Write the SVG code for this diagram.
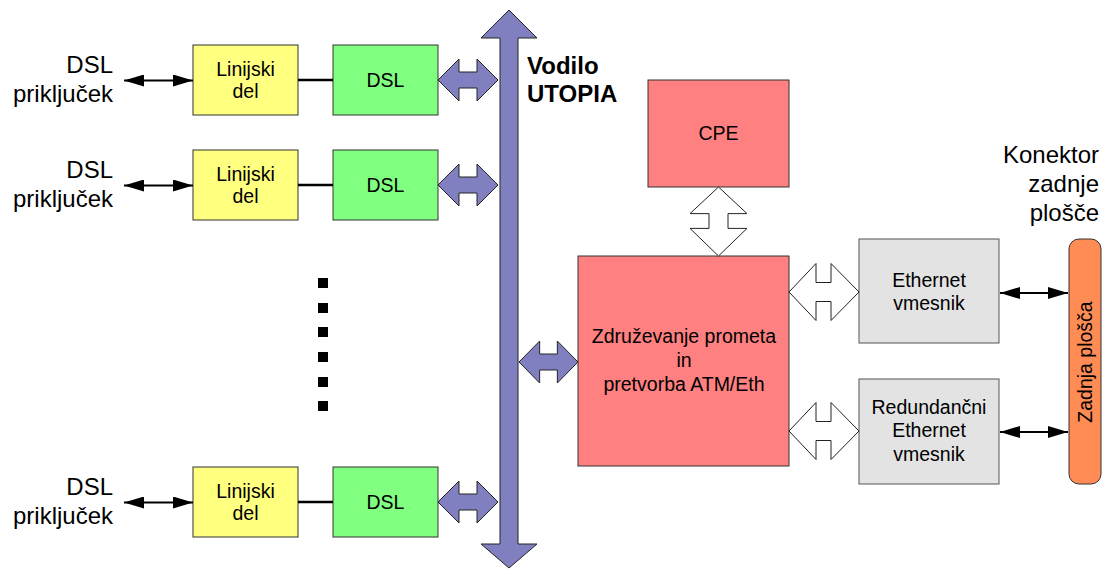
<svg xmlns="http://www.w3.org/2000/svg" width="1103" height="569" viewBox="0 0 1103 569">
  <style>
    .t { font-family: "Liberation Sans", Arial, sans-serif; fill: #000; }
    .lbl { font-size: 24px; }
    .box { font-size: 19.5px; text-anchor: middle; }
    .bold { font-size: 24px; font-weight: bold; }
    .yel { fill: #FFFF80; stroke: #333; stroke-width: 1; }
    .grn { fill: #80FF80; stroke: #333; stroke-width: 1; }
    .red { fill: #FF8080; stroke: #333; stroke-width: 1; }
    .gry { fill: #E3E3E3; stroke: #555; stroke-width: 1; }
    .bus { fill: #8080C0; stroke: #222; stroke-width: 1; stroke-linejoin: miter; }
    .wht { fill: #FFFFFF; stroke: #222; stroke-width: 1; }
    .link { stroke: #000; stroke-width: 2.5; fill: none; }
    .dbl { stroke: #000; stroke-width: 2; fill: none; marker-start: url(#head); marker-end: url(#head); }
  </style>
  <defs>
    <marker id="head" viewBox="0 0 20 12" refX="20" refY="6" markerWidth="20" markerHeight="12" markerUnits="userSpaceOnUse" orient="auto-start-reverse">
      <path d="M0,0 L20,6 L0,12 Z" fill="#000"/>
    </marker>
    <!-- block double arrow, horizontal, centred on 0,0 with 60px span -->
    <path id="busLink" d="M-30,0 L-9,-21 L-9,-8 L9,-8 L9,-21 L30,0 L9,21 L9,8 L-9,8 L-9,21 Z"/>
    <path id="wideLink" d="M-35,0 L-8,-28.5 L-8,-9.5 L7,-9.5 L7,-28.5 L35,0 L7,28.5 L7,9.5 L-8,9.5 L-8,28.5 Z"/>
  </defs>

  <!-- UTOPIA bus -->
  <g id="bus">
    <path class="bus" d="M509,10 L537,38 L518,38 L518,544 L537,544 L509,568 L481,544 L500,544 L500,38 L481,38 Z"/>
    <text class="t bold" x="527" y="74">Vodilo</text>
    <text class="t bold" x="527" y="102">UTOPIA</text>
  </g>

  <!-- line ports -->
  <g id="port1">
    <text class="t lbl" x="113" y="73" text-anchor="end">DSL</text>
    <text class="t lbl" x="113" y="102" text-anchor="end">priključek</text>
  </g>
  <g id="port2">
    <text class="t lbl" x="113" y="178" text-anchor="end">DSL</text>
    <text class="t lbl" x="113" y="207" text-anchor="end">priključek</text>
  </g>
  <g id="port3">
    <text class="t lbl" x="113" y="495" text-anchor="end">DSL</text>
    <text class="t lbl" x="113" y="524" text-anchor="end">priključek</text>
  </g>

  <!-- line parts -->
  <g id="line1">
    <rect class="yel" x="193" y="45" width="105" height="70"/>
    <text class="t box" x="245.5" y="76">Linijski</text>
    <text class="t box" x="245.5" y="98">del</text>
  </g>
  <g id="line2">
    <rect class="yel" x="193" y="150" width="105" height="70"/>
    <text class="t box" x="245.5" y="181">Linijski</text>
    <text class="t box" x="245.5" y="203">del</text>
  </g>
  <g id="line3">
    <rect class="yel" x="193" y="467" width="105" height="70"/>
    <text class="t box" x="245.5" y="498">Linijski</text>
    <text class="t box" x="245.5" y="520">del</text>
  </g>

  <!-- DSL blocks -->
  <g id="dsl1">
    <rect class="grn" x="333" y="45" width="105" height="70"/>
    <text class="t box" x="385.5" y="87">DSL</text>
  </g>
  <g id="dsl2">
    <rect class="grn" x="333" y="150" width="105" height="70"/>
    <text class="t box" x="385.5" y="192">DSL</text>
  </g>
  <g id="dsl3">
    <rect class="grn" x="333" y="467" width="105" height="70"/>
    <text class="t box" x="385.5" y="509">DSL</text>
  </g>

  <!-- continuation dots -->
  <g id="ellipsis" fill="#000">
    <rect x="318" y="278" width="10" height="10"/>
    <rect x="318" y="303" width="10" height="10"/>
    <rect x="318" y="327" width="10" height="10"/>
    <rect x="318" y="352" width="10" height="10"/>
    <rect x="318" y="377" width="10" height="10"/>
    <rect x="318" y="401" width="10" height="10"/>
  </g>

  <!-- CPE -->
  <g id="cpe">
    <rect class="red" x="648" y="80" width="141" height="107"/>
    <text class="t box" x="718.5" y="140">CPE</text>
  </g>

  <!-- aggregation / conversion -->
  <g id="aggregation">
    <rect class="red" x="578" y="256" width="211" height="210"/>
    <text class="t box" x="684" y="343">Združevanje prometa</text>
    <text class="t box" x="684" y="367">in</text>
    <text class="t box" x="684" y="391">pretvorba ATM/Eth</text>
  </g>

  <!-- Ethernet interfaces -->
  <g id="eth">
    <rect class="gry" x="859" y="239" width="140" height="104"/>
    <text class="t box" x="929" y="287">Ethernet</text>
    <text class="t box" x="929" y="310">vmesnik</text>
  </g>
  <g id="eth-red">
    <rect class="gry" x="859" y="379" width="140" height="105"/>
    <text class="t box" x="929" y="414">Redundančni</text>
    <text class="t box" x="929" y="437">Ethernet</text>
    <text class="t box" x="929" y="461">vmesnik</text>
  </g>

  <!-- backplane -->
  <g id="backplane">
    <text class="t lbl" x="1099" y="163" text-anchor="end">Konektor</text>
    <text class="t lbl" x="1099" y="192" text-anchor="end">zadnje</text>
    <text class="t lbl" x="1099" y="221" text-anchor="end">plošče</text>
    <rect x="1069" y="239" width="32" height="245" rx="10" ry="10" fill="#FF8C55" stroke="#333" stroke-width="1"/>
    <text class="t box" transform="translate(1092,362) rotate(-90)">Zadnja plošča</text>
  </g>

  <!-- connectors -->
  <g id="connectors">
    <line class="dbl" x1="124" y1="80.5" x2="193" y2="80.5"/>
    <line class="dbl" x1="124" y1="185.5" x2="193" y2="185.5"/>
    <line class="dbl" x1="124" y1="502.5" x2="193" y2="502.5"/>

    <line class="link" x1="298" y1="80" x2="333" y2="80"/>
    <line class="link" x1="298" y1="185" x2="333" y2="185"/>
    <line class="link" x1="298" y1="502" x2="333" y2="502"/>

    <use href="#busLink" class="bus" transform="translate(468,80)"/>
    <use href="#busLink" class="bus" transform="translate(468,185)"/>
    <use href="#busLink" class="bus" transform="translate(468,502)"/>
    <use href="#busLink" class="bus" transform="translate(548.5,362) scale(0.983,1)"/>

    <use href="#wideLink" class="wht" transform="translate(718.5,221.5) rotate(90) scale(0.986,1)"/>
    <use href="#wideLink" class="wht" transform="translate(824,292)"/>
    <use href="#wideLink" class="wht" transform="translate(824,431)"/>

    <line class="dbl" x1="1000" y1="293" x2="1068" y2="293"/>
    <line class="dbl" x1="1000" y1="432" x2="1068" y2="432"/>
  </g>
</svg>
